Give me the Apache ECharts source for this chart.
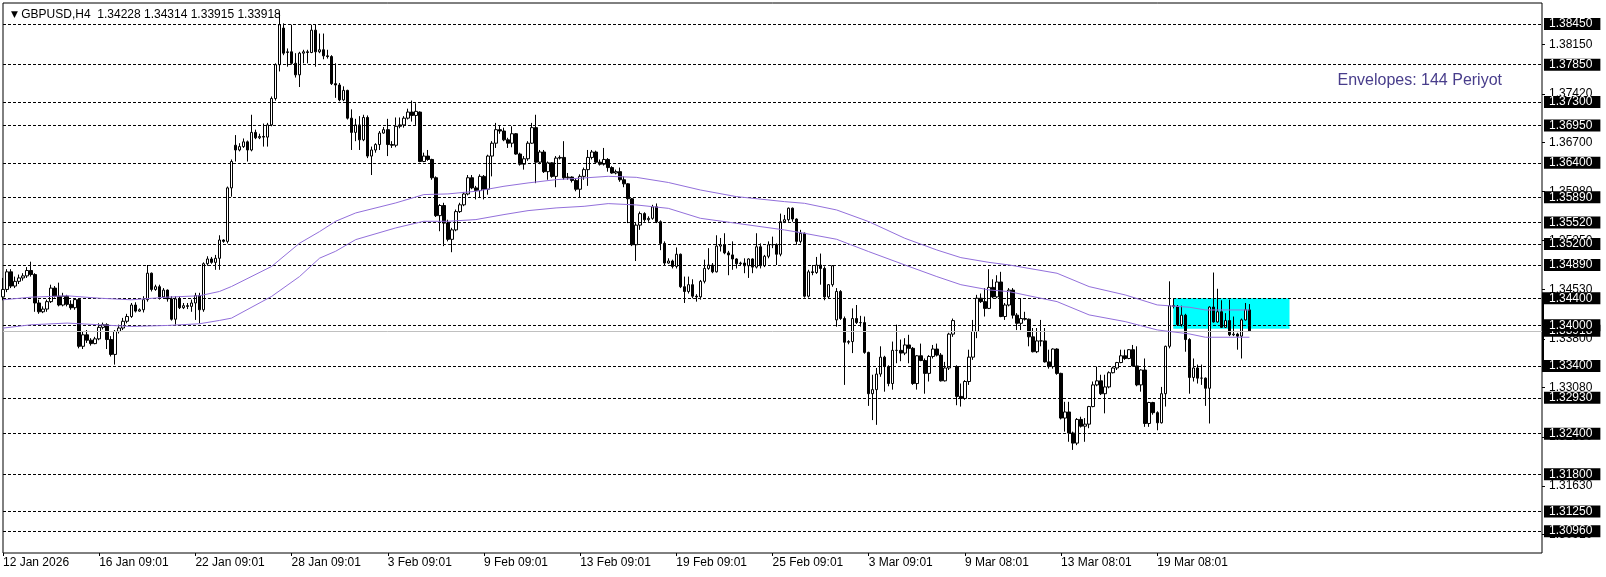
<!DOCTYPE html>
<html><head><meta charset="utf-8">
<script src="https://cdn.jsdelivr.net/npm/echarts@6/dist/echarts.min.js"></script>
<style>html,body{margin:0;padding:0;background:#fff;}#c{width:1606px;height:577px;}</style>
</head><body><div id="c"></div>
<script>
const headerSymbol = 'GBPUSD,H4';
const headerOHLC = '1.34228 1.34314 1.33915 1.33918';
const indicatorText = 'Envelopes: 144 Periyot';
const xTickLabels = ['12 Jan 2026','16 Jan 09:01','22 Jan 09:01','28 Jan 09:01','3 Feb 09:01','9 Feb 09:01','13 Feb 09:01','19 Feb 09:01','25 Feb 09:01','3 Mar 09:01','9 Mar 08:01','13 Mar 08:01','19 Mar 08:01'];
const barsPerLabel = 24;
const totalSlots = 385;
const categories = Array.from({length: totalSlots}, (_, i) => String(i));
// [open, close, low, high]
const candles = [
[1.3442,1.3453,1.3437,1.3470],[1.3453,1.3479,1.3449,1.3483],[1.3479,1.3458,1.3455,1.3483],[1.3458,1.3465,1.3455,1.3472],
[1.3465,1.3470,1.3461,1.3475],[1.3470,1.3473,1.3466,1.3477],[1.3473,1.3481,1.3470,1.3486],[1.3481,1.3475,1.3472,1.3494],
[1.3475,1.3433,1.3420,1.3477],[1.3433,1.3420,1.3417,1.3438],[1.3420,1.3424,1.3418,1.3428],[1.3424,1.3435,1.3420,1.3438],
[1.3435,1.3455,1.3433,1.3460],[1.3455,1.3443,1.3441,1.3458],[1.3443,1.3430,1.3428,1.3463],[1.3430,1.3443,1.3428,1.3448],
[1.3443,1.3431,1.3428,1.3445],[1.3431,1.3426,1.3423,1.3437],[1.3426,1.3438,1.3423,1.3440],[1.3438,1.3369,1.3366,1.3439],
[1.3369,1.3386,1.3365,1.3391],[1.3386,1.3378,1.3374,1.3393],[1.3378,1.3373,1.3370,1.3381],[1.3373,1.3380,1.3372,1.3383],
[1.3380,1.3397,1.3378,1.3403],[1.3397,1.3401,1.3394,1.3404],[1.3401,1.3379,1.3365,1.3403],[1.3379,1.3357,1.3354,1.3384],
[1.3357,1.3391,1.3342,1.3393],[1.3391,1.3396,1.3388,1.3401],[1.3396,1.3406,1.3393,1.3411],[1.3406,1.3413,1.3403,1.3417],
[1.3413,1.3430,1.3411,1.3433],[1.3430,1.3421,1.3419,1.3434],[1.3421,1.3423,1.3420,1.3425],[1.3423,1.3438,1.3419,1.3443],
[1.3438,1.3477,1.3435,1.3489],[1.3477,1.3453,1.3450,1.3478],[1.3453,1.3457,1.3451,1.3460],[1.3457,1.3442,1.3438,1.3460],
[1.3442,1.3452,1.3440,1.3455],[1.3452,1.3439,1.3435,1.3453],[1.3439,1.3409,1.3407,1.3443],[1.3409,1.3439,1.3401,1.3443],
[1.3439,1.3426,1.3424,1.3443],[1.3426,1.3429,1.3424,1.3433],[1.3429,1.3428,1.3424,1.3433],[1.3428,1.3433,1.3420,1.3438],
[1.3433,1.3444,1.3408,1.3448],[1.3444,1.3423,1.3403,1.3448],[1.3423,1.3491,1.3420,1.3493],[1.3491,1.3498,1.3488,1.3502],
[1.3498,1.3493,1.3491,1.3501],[1.3493,1.3499,1.3482,1.3504],[1.3499,1.3526,1.3482,1.3533],[1.3526,1.3524,1.3522,1.3527],
[1.3524,1.3603,1.3521,1.3605],[1.3603,1.3642,1.3590,1.3645],[1.3666,1.3659,1.3642,1.3681],[1.3659,1.3664,1.3657,1.3669],
[1.3664,1.3671,1.3662,1.3676],[1.3671,1.3659,1.3642,1.3673],[1.3659,1.3685,1.3657,1.3711],[1.3685,1.3677,1.3675,1.3689],
[1.3677,1.3679,1.3675,1.3683],[1.3679,1.3678,1.3664,1.3698],[1.3678,1.3696,1.3664,1.3699],[1.3696,1.3735,1.3694,1.3738],
[1.3735,1.3785,1.3732,1.3787],[1.3785,1.3844,1.3775,1.3862],[1.3839,1.3802,1.3799,1.3846],[1.3803,1.3804,1.3782,1.3809],
[1.3804,1.3787,1.3785,1.3844],[1.3787,1.3770,1.3766,1.3802],[1.3770,1.3802,1.3752,1.3804],[1.3802,1.3804,1.3787,1.3807],
[1.3804,1.3803,1.3787,1.3807],[1.3803,1.3836,1.3802,1.3844],[1.3836,1.3804,1.3782,1.3845],[1.3804,1.3807,1.3802,1.3831],
[1.3807,1.3798,1.3793,1.3831],[1.3798,1.3797,1.3794,1.3807],[1.3797,1.3757,1.3755,1.3799],[1.3757,1.3755,1.3736,1.3787],
[1.3755,1.3733,1.3731,1.3758],[1.3733,1.3747,1.3731,1.3753],[1.3747,1.3706,1.3704,1.3748],[1.3706,1.3685,1.3659,1.3719],
[1.3685,1.3696,1.3672,1.3705],[1.3696,1.3674,1.3659,1.3709],[1.3674,1.3707,1.3672,1.3711],[1.3707,1.3650,1.3647,1.3710],
[1.3650,1.3659,1.3622,1.3664],[1.3659,1.3667,1.3655,1.3669],[1.3667,1.3684,1.3659,1.3687],[1.3684,1.3689,1.3683,1.3693],
[1.3689,1.3667,1.3650,1.3705],[1.3667,1.3666,1.3662,1.3672],[1.3666,1.3694,1.3663,1.3707],[1.3694,1.3696,1.3691,1.3707],
[1.3696,1.3706,1.3692,1.3709],[1.3706,1.3715,1.3704,1.3720],[1.3715,1.3710,1.3701,1.3732],[1.3710,1.3716,1.3696,1.3728],
[1.3715,1.3642,1.3641,1.3716],[1.3642,1.3650,1.3641,1.3655],[1.3650,1.3645,1.3643,1.3659],[1.3645,1.3618,1.3615,1.3646],
[1.3618,1.3562,1.3560,1.3620],[1.3562,1.3577,1.3539,1.3579],[1.3577,1.3551,1.3517,1.3581],[1.3551,1.3527,1.3524,1.3556],
[1.3527,1.3541,1.3508,1.3544],[1.3541,1.3568,1.3539,1.3571],[1.3568,1.3578,1.3566,1.3581],[1.3578,1.3594,1.3576,1.3597],
[1.3594,1.3618,1.3592,1.3622],[1.3618,1.3603,1.3601,1.3622],[1.3603,1.3599,1.3586,1.3606],[1.3599,1.3620,1.3588,1.3623],
[1.3620,1.3601,1.3586,1.3622],[1.3601,1.3650,1.3593,1.3652],[1.3650,1.3669,1.3620,1.3672],[1.3669,1.3689,1.3662,1.3699],
[1.3689,1.3687,1.3683,1.3695],[1.3687,1.3674,1.3672,1.3692],[1.3674,1.3669,1.3662,1.3677],[1.3669,1.3683,1.3663,1.3694],
[1.3683,1.3653,1.3652,1.3684],[1.3653,1.3638,1.3636,1.3655],[1.3638,1.3646,1.3630,1.3650],[1.3646,1.3669,1.3643,1.3672],
[1.3669,1.3692,1.3668,1.3699],[1.3692,1.3641,1.3610,1.3711],[1.3641,1.3656,1.3638,1.3659],[1.3656,1.3627,1.3625,1.3659],
[1.3627,1.3640,1.3615,1.3642],[1.3640,1.3620,1.3618,1.3641],[1.3620,1.3647,1.3604,1.3650],[1.3647,1.3648,1.3645,1.3651],
[1.3648,1.3618,1.3615,1.3672],[1.3618,1.3619,1.3615,1.3625],[1.3619,1.3614,1.3611,1.3620],[1.3614,1.3601,1.3598,1.3617],
[1.3601,1.3620,1.3589,1.3623],[1.3620,1.3630,1.3615,1.3633],[1.3630,1.3648,1.3606,1.3659],[1.3648,1.3656,1.3645,1.3659],
[1.3656,1.3641,1.3640,1.3658],[1.3641,1.3638,1.3636,1.3645],[1.3638,1.3645,1.3636,1.3662],[1.3645,1.3633,1.3627,1.3647],
[1.3633,1.3625,1.3624,1.3635],[1.3625,1.3627,1.3623,1.3630],[1.3627,1.3615,1.3612,1.3633],[1.3615,1.3609,1.3604,1.3620],
[1.3609,1.3587,1.3551,1.3610],[1.3587,1.3519,1.3517,1.3588],[1.3519,1.3548,1.3495,1.3551],[1.3548,1.3565,1.3541,1.3568],
[1.3565,1.3556,1.3553,1.3567],[1.3556,1.3558,1.3553,1.3561],[1.3558,1.3575,1.3556,1.3578],[1.3575,1.3553,1.3551,1.3580],
[1.3553,1.3521,1.3511,1.3555],[1.3521,1.3492,1.3489,1.3524],[1.3492,1.3495,1.3491,1.3499],[1.3495,1.3487,1.3484,1.3497],
[1.3487,1.3505,1.3484,1.3515],[1.3505,1.3457,1.3455,1.3506],[1.3457,1.3450,1.3433,1.3472],[1.3450,1.3460,1.3447,1.3472],
[1.3460,1.3443,1.3440,1.3468],[1.3443,1.3442,1.3435,1.3446],[1.3442,1.3465,1.3438,1.3467],[1.3465,1.3484,1.3462,1.3497],
[1.3484,1.3489,1.3482,1.3514],[1.3489,1.3479,1.3477,1.3492],[1.3479,1.3517,1.3478,1.3533],[1.3517,1.3519,1.3509,1.3529],
[1.3519,1.3507,1.3505,1.3536],[1.3507,1.3504,1.3474,1.3510],[1.3504,1.3498,1.3482,1.3524],[1.3498,1.3491,1.3484,1.3499],
[1.3491,1.3492,1.3488,1.3494],[1.3492,1.3488,1.3477,1.3499],[1.3488,1.3498,1.3470,1.3499],[1.3498,1.3486,1.3477,1.3499],
[1.3486,1.3516,1.3484,1.3536],[1.3516,1.3488,1.3484,1.3521],[1.3488,1.3502,1.3486,1.3504],[1.3502,1.3519,1.3499,1.3524],
[1.3519,1.3519,1.3514,1.3531],[1.3519,1.3505,1.3489,1.3521],[1.3505,1.3553,1.3502,1.3565],[1.3553,1.3556,1.3551,1.3563],
[1.3556,1.3573,1.3553,1.3574],[1.3573,1.3557,1.3553,1.3574],[1.3557,1.3524,1.3519,1.3558],[1.3524,1.3536,1.3521,1.3541],
[1.3536,1.3443,1.3441,1.3537],[1.3443,1.3479,1.3441,1.3482],[1.3479,1.3478,1.3474,1.3489],[1.3478,1.3489,1.3476,1.3501],
[1.3489,1.3484,1.3460,1.3506],[1.3484,1.3442,1.3437,1.3487],[1.3442,1.3460,1.3440,1.3461],[1.3460,1.3488,1.3457,1.3489],
[1.3408,1.3450,1.3398,1.3455],[1.3450,1.3410,1.3408,1.3452],[1.3410,1.3375,1.3312,1.3413],[1.3375,1.3376,1.3372,1.3378],
[1.3376,1.3410,1.3359,1.3425],[1.3410,1.3404,1.3402,1.3430],[1.3404,1.3404,1.3398,1.3414],[1.3404,1.3360,1.3358,1.3413],
[1.3360,1.3299,1.3281,1.3361],[1.3299,1.3305,1.3260,1.3327],[1.3305,1.3328,1.3253,1.3337],[1.3328,1.3353,1.3324,1.3369],
[1.3353,1.3339,1.3302,1.3355],[1.3339,1.3314,1.3310,1.3341],[1.3314,1.3363,1.3305,1.3376],[1.3363,1.3363,1.3344,1.3401],
[1.3363,1.3359,1.3347,1.3379],[1.3359,1.3371,1.3356,1.3381],[1.3371,1.3366,1.3344,1.3386],[1.3366,1.3314,1.3312,1.3368],
[1.3314,1.3355,1.3305,1.3356],[1.3355,1.3348,1.3347,1.3373],[1.3348,1.3329,1.3299,1.3351],[1.3329,1.3354,1.3317,1.3356],
[1.3354,1.3365,1.3351,1.3371],[1.3365,1.3356,1.3354,1.3373],[1.3356,1.3318,1.3317,1.3359],[1.3318,1.3337,1.3317,1.3346],
[1.3337,1.3387,1.3334,1.3389],[1.3387,1.3407,1.3383,1.3410],[1.3339,1.3295,1.3282,1.3341],[1.3295,1.3292,1.3280,1.3314],
[1.3292,1.3317,1.3290,1.3319],[1.3317,1.3353,1.3312,1.3364],[1.3353,1.3391,1.3349,1.3408],[1.3391,1.3440,1.3381,1.3445],
[1.3440,1.3435,1.3433,1.3447],[1.3435,1.3425,1.3413,1.3455],[1.3425,1.3456,1.3424,1.3483],[1.3456,1.3442,1.3440,1.3468],
[1.3442,1.3464,1.3440,1.3474],[1.3464,1.3413,1.3412,1.3479],[1.3413,1.3430,1.3408,1.3433],[1.3430,1.3452,1.3428,1.3455],
[1.3452,1.3415,1.3410,1.3455],[1.3415,1.3403,1.3393,1.3418],[1.3403,1.3410,1.3393,1.3440],[1.3410,1.3409,1.3407,1.3420],
[1.3409,1.3383,1.3369,1.3410],[1.3383,1.3361,1.3360,1.3396],[1.3361,1.3377,1.3359,1.3396],[1.3377,1.3377,1.3369,1.3408],
[1.3377,1.3346,1.3345,1.3396],[1.3346,1.3339,1.3336,1.3364],[1.3339,1.3365,1.3336,1.3366],[1.3365,1.3329,1.3327,1.3366],
[1.3329,1.3263,1.3261,1.3330],[1.3263,1.3272,1.3243,1.3287],[1.3272,1.3241,1.3228,1.3287],[1.3241,1.3226,1.3216,1.3243],
[1.3226,1.3261,1.3223,1.3263],[1.3261,1.3251,1.3249,1.3265],[1.3251,1.3254,1.3228,1.3263],[1.3254,1.3280,1.3248,1.3281],
[1.3280,1.3312,1.3279,1.3317],[1.3312,1.3318,1.3310,1.3339],[1.3318,1.3299,1.3297,1.3327],[1.3299,1.3309,1.3270,1.3327],
[1.3309,1.3330,1.3307,1.3332],[1.3330,1.3337,1.3329,1.3339],[1.3337,1.3345,1.3334,1.3346],[1.3345,1.3355,1.3344,1.3364],
[1.3355,1.3351,1.3349,1.3364],[1.3351,1.3364,1.3350,1.3365],[1.3364,1.3340,1.3339,1.3371],[1.3340,1.3312,1.3310,1.3369],
[1.3312,1.3334,1.3302,1.3335],[1.3334,1.3255,1.3250,1.3351],[1.3255,1.3286,1.3250,1.3287],[1.3286,1.3271,1.3268,1.3287],
[1.3271,1.3256,1.3245,1.3273],[1.3256,1.3299,1.3255,1.3309],[1.3299,1.3369,1.3280,1.3370],[1.3369,1.3429,1.3366,1.3465],
[1.3429,1.3428,1.3425,1.3440],[1.3428,1.3401,1.3399,1.3430],[1.3401,1.3415,1.3398,1.3429],[1.3415,1.3379,1.3361,1.3417],
[1.3379,1.3323,1.3299,1.3381],[1.3323,1.3337,1.3317,1.3351],[1.3337,1.3322,1.3314,1.3342],[1.3322,1.3322,1.3312,1.3342],
[1.3322,1.3307,1.3281,1.3323],[1.3307,1.3427,1.3255,1.3428],[1.3427,1.3405,1.3404,1.3478],[1.3405,1.3420,1.3404,1.3454],
[1.3420,1.3397,1.3396,1.3437],[1.3397,1.3407,1.3396,1.3418],[1.3407,1.3386,1.3384,1.3438],[1.3386,1.3387,1.3384,1.3413],
[1.3387,1.3384,1.3364,1.3389],[1.3384,1.3408,1.3351,1.3410],[1.3408,1.3423,1.3407,1.3433],[1.34228,1.33918,1.33915,1.34314]
];
const envUpper = [[0,1.34377],[7,1.34416],[16,1.34436],[24,1.34401],[32,1.34377],[41,1.34416],[49,1.34436],[54,1.34500],[57,1.34573],[67,1.34869],[74,1.35213],[79,1.35385],[83,1.35537],[88,1.35660],[98,1.35808],[105,1.35931],[111,1.35941],[118,1.35980],[125,1.36054],[131,1.36103],[138,1.36152],[145,1.36177],[151,1.36201],[158,1.36186],[166,1.36110],[174,1.35999],[183,1.35901],[195,1.35827],[200,1.35802],[208,1.35704],[216,1.35532],[225,1.35286],[233,1.35113],[239,1.35000],[246,1.34930],[251,1.34892],[263,1.34769],[271,1.34572],[280,1.34449],[288,1.34301],[296,1.34267],[300,1.34227],[311,1.34227]];
const envLower = [[0,1.33959],[7,1.34008],[16,1.34033],[24,1.34008],[32,1.33983],[41,1.33998],[49,1.34023],[54,1.34072],[57,1.34106],[67,1.34426],[74,1.34721],[79,1.34992],[83,1.35094],[88,1.35266],[98,1.35439],[105,1.35537],[111,1.35537],[118,1.35562],[125,1.35636],[131,1.35694],[138,1.35734],[145,1.35758],[151,1.35798],[158,1.35778],[166,1.35728],[174,1.35581],[183,1.35507],[195,1.35409],[200,1.35359],[208,1.35271],[216,1.35089],[225,1.34892],[233,1.34720],[239,1.34600],[246,1.34523],[251,1.34498],[263,1.34350],[271,1.34154],[280,1.34055],[288,1.33932],[296,1.33873],[300,1.33824],[311,1.33824]];
const levelLines = [1.38450,1.37850,1.37300,1.36950,1.36400,1.35890,1.35520,1.35200,1.34890,1.34400,1.34000,1.33400,1.32930,1.32400,1.31800,1.31250,1.30960];
const plainTicks = [1.38150,1.37420,1.36700,1.35980,1.35250,1.34530,1.33800,1.33080,1.32350,1.31630,1.30910];
const bidPrice = 1.33918;
const zone = {start: 292, end: 321, top: 1.3440, bottom: 1.3395};
const scaleBar = {top: 1.3440, bottom: 1.3340};
const yMin = 1.30637, yMax = 1.38761;

const FONT = 'Liberation Sans';
const chart = echarts.init(document.getElementById('c'), null, {renderer: 'canvas'});
const boxLabel = {show: true, position: 'end', distance: 2, color: '#fff', backgroundColor: '#000',
  fontFamily: FONT, fontSize: 12, lineHeight: 12, padding: [0, 8, 0, 5]};
const option = {
  animation: false,
  backgroundColor: '#ffffff',
  title: [
    {left: 6, top: 4, text: '{tri|▼} ' + headerSymbol + '  ' + headerOHLC,
     textStyle: {fontFamily: FONT, fontSize: 12, fontWeight: 'normal', color: '#000',
       rich: {tri: {fontFamily: 'DejaVu Sans', fontSize: 9, color: '#000'}}}},
    {right: 99, top: 68, text: indicatorText,
     textStyle: {fontFamily: FONT, fontSize: 16, fontWeight: 'normal', color: '#483d8b'}}
  ],
  grid: {left: 3, right: 64, top: 3, bottom: 24, show: true, borderColor: '#000', borderWidth: 1, backgroundColor: '#fff'},
  xAxis: {
    type: 'category', data: categories, boundaryGap: false,
    axisLine: {show: false},
    axisTick: {show: true, length: 3, lineStyle: {color: '#000'},
      interval: (i) => i % barsPerLabel === 0 && (i / barsPerLabel) < xTickLabels.length},
    axisLabel: {show: true, align: 'left', margin: 4, fontFamily: FONT, fontSize: 12, color: '#000',
      interval: (i) => i % barsPerLabel === 0 && (i / barsPerLabel) < xTickLabels.length,
      formatter: (v, i) => xTickLabels[i / barsPerLabel] || ''},
    splitLine: {show: false}
  },
  yAxis: {
    type: 'value', position: 'right', min: yMin, max: yMax, scale: true,
    axisLine: {show: false},
    splitLine: {show: false},
    axisTick: {show: true, length: 3, customValues: plainTicks, lineStyle: {color: '#000'}},
    axisLabel: {show: true, customValues: plainTicks, margin: 7, fontFamily: FONT, fontSize: 12, color: '#000',
      formatter: (v) => v.toFixed(5)}
  },
  series: [
    {type: 'line', data: [], z: 1, silent: true,
     markArea: {silent: true, itemStyle: {color: '#00ffff', opacity: 1},
       data: [[{xAxis: String(zone.start), yAxis: zone.top}, {xAxis: String(zone.end), yAxis: zone.bottom}]]}},
    {type: 'line', data: [], z: 2, silent: true,
     markLine: {silent: true, precision: 5, symbol: ['none', 'none'], animation: false,
       lineStyle: {color: '#c0c0c0', type: 'solid', width: 1},
       label: Object.assign({}, boxLabel, {formatter: bidPrice.toFixed(5)}),
       data: [{yAxis: bidPrice}]}},
    {type: 'line', data: [], z: 3, silent: true,
     markLine: {silent: true, precision: 5, symbol: ['none', 'none'], animation: false,
       lineStyle: {color: '#000', type: [3, 2], width: 1},
       label: Object.assign({}, boxLabel, {formatter: (p) => Number(p.value).toFixed(5)}),
       data: levelLines.map(v => ({yAxis: v}))}},
    {type: 'candlestick', data: candles, z: 4, barWidth: 3, clip: true,
     itemStyle: {color: '#ffffff', color0: '#000000', borderColor: '#000000', borderColor0: '#000000', borderWidth: 1}},
    {type: 'line', data: envUpper, z: 5, symbol: 'none', showSymbol: false, silent: true,
     lineStyle: {color: '#9370db', width: 1}},
    {type: 'line', data: envLower, z: 5, symbol: 'none', showSymbol: false, silent: true,
     lineStyle: {color: '#9370db', width: 1}}
  ]
};
chart.setOption(option);
const yTop = chart.convertToPixel({yAxisIndex: 0}, scaleBar.top);
const yBot = chart.convertToPixel({yAxisIndex: 0}, scaleBar.bottom);
const gridRect = chart.getModel().getComponent('grid', 0).coordinateSystem.getRect();
chart.setOption({graphic: [{type: 'rect', z: 100, silent: true,
  shape: {x: gridRect.x + gridRect.width, y: yTop - 6, width: 2, height: (yBot - yTop) + 12},
  style: {fill: '#000'}}]});
</script>
</body></html>
